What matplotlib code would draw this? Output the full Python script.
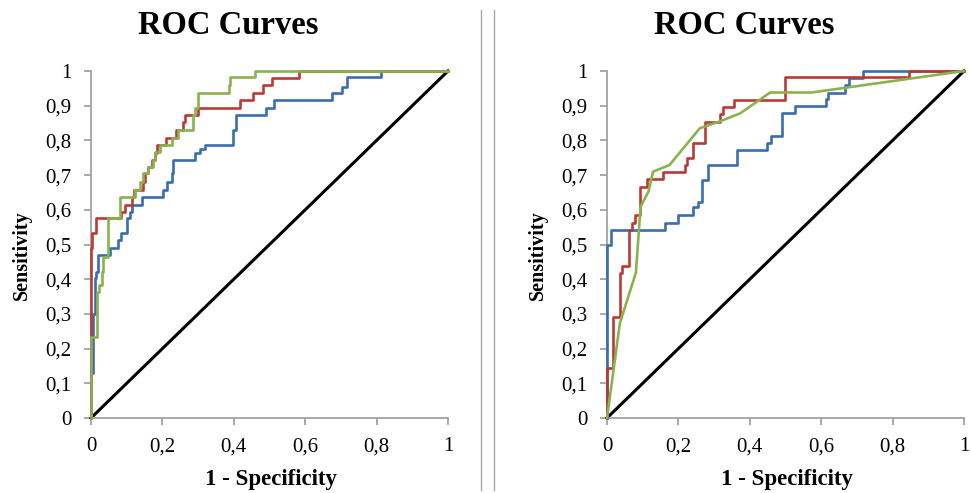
import matplotlib
matplotlib.use('Agg')
import matplotlib.pyplot as plt
from matplotlib.lines import Line2D

plt.rcParams['font.family'] = ['Liberation Serif', 'DejaVu Serif']

# ROC points (1 - specificity, sensitivity)
left_red_fpr = [0, 0, 0.004, 0.013, 0.084, 0.095, 0.114, 0.12, 0.147, 0.152, 0.16, 0.17,
                0.178, 0.186, 0.21, 0.237, 0.257, 0.262, 0.30, 0.417, 0.455, 0.483, 0.506,
                0.583, 1.0]
left_red_tpr = [0, 0.489, 0.532, 0.575, 0.594, 0.614, 0.638, 0.657, 0.681, 0.705, 0.724, 0.744,
                0.763, 0.787, 0.806, 0.830, 0.854, 0.873, 0.892, 0.916, 0.936, 0.960, 0.979,
                1.0, 1.0]

left_green_fpr = [0, 0, 0.016, 0.022, 0.030, 0.035, 0.047, 0.081, 0.123, 0.137, 0.147, 0.161,
                  0.175, 0.179, 0.193, 0.228, 0.245, 0.287, 0.291, 0.299, 0.387, 0.390, 0.459,
                  1.0]
left_green_tpr = [0, 0.234, 0.364, 0.383, 0.420, 0.465, 0.575, 0.638, 0.657, 0.681, 0.705, 0.724,
                  0.744, 0.768, 0.787, 0.806, 0.830, 0.873, 0.892, 0.936, 0.960, 0.982, 1.0,
                  1.0]

left_blue_fpr = [0, 0, 0.006, 0.010, 0.015, 0.020, 0.053, 0.077, 0.085, 0.100, 0.109, 0.114,
                 0.142, 0.2025, 0.212, 0.226, 0.231, 0.291, 0.305, 0.319, 0.399, 0.405, 0.490,
                 0.513, 0.674, 0.702, 0.718, 0.812, 1.0]
left_blue_tpr = [0, 0.129, 0.300, 0.403, 0.420, 0.470, 0.489, 0.513, 0.532, 0.575, 0.594, 0.614,
                 0.638, 0.657, 0.681, 0.705, 0.744, 0.763, 0.775, 0.787, 0.830, 0.873, 0.892,
                 0.916, 0.936, 0.955, 0.982, 1.0, 1.0]

right_blue_fpr = [0, 0, 0.010, 0.162, 0.200, 0.240, 0.256, 0.265, 0.284, 0.363, 0.447, 0.460,
                  0.489, 0.527, 0.613, 0.620, 0.667, 0.677, 0.716, 1.0]
right_blue_tpr = [0, 0.500, 0.542, 0.563, 0.585, 0.607, 0.623, 0.686, 0.729, 0.772, 0.793, 0.812,
                  0.878, 0.899, 0.918, 0.938, 0.960, 0.979, 1.0, 1.0]

right_red_fpr = [0, 0, 0.018, 0.036, 0.042, 0.0625, 0.070, 0.079, 0.093, 0.112, 0.156, 0.2185,
                 0.223, 0.242, 0.2745, 0.3165, 0.326, 0.356, 0.499, 0.847, 1.0]
right_red_tpr = [0, 0.143, 0.292, 0.419, 0.438, 0.542, 0.563, 0.585, 0.667, 0.689, 0.710, 0.729,
                 0.750, 0.793, 0.854, 0.876, 0.897, 0.916, 0.982, 1.0, 1.0]

right_green_fpr = [0, 0.036, 0.081, 0.094, 0.116, 0.129, 0.175, 0.260, 0.314, 0.373, 0.457,
                   0.573, 1.0]
right_green_tpr = [0, 0.273, 0.419, 0.609, 0.652, 0.710, 0.729, 0.835, 0.854, 0.878, 0.938,
                   0.938, 1.0]

x_ticks = [0, 0.2, 0.4, 0.6, 0.8, 1]
x_tick_labels = ['0', '0,2', '0,4', '0,6', '0,8', '1']
y_ticks = [i / 10 for i in range(11)]
y_tick_labels = ['0'] + ['0,%d' % i for i in range(1, 10)] + ['1']

BLUE = '#3b6cb0'
RED = '#bb3a35'
GREEN = '#8ab24e'
AXIS_GREY = '#9b9b9b'

W, H = 971, 493
fig = plt.figure(figsize=(W / 100, H / 100), dpi=100)


def make_axes(left_px, curves, green_steps):
    ax = fig.add_axes([left_px / W, 1 - 418 / H, 357 / W, 347 / H])
    ax.set_xlim(0, 1)
    ax.set_ylim(0, 1)
    for side in ('top', 'right'):
        ax.spines[side].set_visible(False)
    for side in ('left', 'bottom'):
        ax.spines[side].set_color(AXIS_GREY)
        ax.spines[side].set_linewidth(1.2)
    ax.tick_params(direction='out', length=5, width=1.2, color=AXIS_GREY,
                   labelsize=15, pad=9)
    ax.set_xticks(x_ticks)
    ax.set_xticklabels(x_tick_labels)
    ax.set_yticks(y_ticks)
    ax.set_yticklabels(y_tick_labels)

    ax.plot([0, 1], [0, 1], color='black', lw=2.2, clip_on=False, zorder=2)
    (bf, bt), (rf, rt), (gf, gt) = curves
    ax.plot(bf, bt, color=BLUE, lw=1.9, drawstyle='steps-post', clip_on=False, zorder=3)
    ax.plot(rf, rt, color=RED, lw=1.9, drawstyle='steps-post', clip_on=False, zorder=4)
    ax.plot(gf, gt, color=GREEN, lw=1.9,
            drawstyle='steps-post' if green_steps else 'default', clip_on=False, zorder=5)

    offset = left_px - 91
    fig.text((228 + offset) / W, 1 - 25 / H, 'ROC Curves', ha='center', va='center',
             fontsize=23.5, fontweight='bold')
    fig.text((22 + offset) / W, 1 - 255 / H, 'Sensitivity', ha='center', va='center',
             rotation=90, fontsize=14.5, fontweight='bold')
    fig.text((left_px + 180) / W, 1 - 480 / H, '1 - Specificity', ha='center', va='center',
             fontsize=16.5, fontweight='bold')
    return ax


make_axes(91, [(left_blue_fpr, left_blue_tpr), (left_red_fpr, left_red_tpr),
               (left_green_fpr, left_green_tpr)], True)
make_axes(607, [(right_blue_fpr, right_blue_tpr), (right_red_fpr, right_red_tpr),
                (right_green_fpr, right_green_tpr)], False)

# double separator line between the two charts
for xp in (480.7, 494.3):
    fig.add_artist(Line2D([xp / W, xp / W], [1 - 10 / H, 1 - 490 / H],
                          color='#a8a8a8', lw=1.0, transform=fig.transFigure))

fig.savefig('out.png', dpi=100)
